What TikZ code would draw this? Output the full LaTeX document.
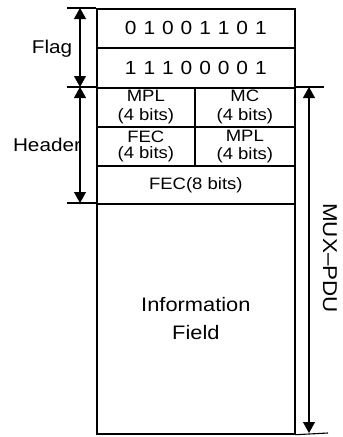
\documentclass[tikz,border=0pt]{standalone}
\usepackage{fontspec}
\setmainfont{Liberation Sans}[FakeStretch=1.12]
\newfontfamily\digitfont{Liberation Sans}[FakeStretch=1.1,WordSpace=1.2]
\usetikzlibrary{arrows.meta}
\begin{document}
\begin{tikzpicture}[x=1pt,y=-1pt,
  cell/.style={draw,line width=1.7pt,anchor=north west,inner sep=0pt,align=center,
    font=\fontsize{16.5}{19}\selectfont},
  lab/.style={inner sep=0pt,font=\fontsize{18.5}{20}\selectfont},
  dim/.style={line width=1.1pt},
  dimarrow/.style={line width=1.1pt,{Triangle[length=11pt,width=12pt]}-{Triangle[length=11pt,width=12pt]}}]
\useasboundingbox (0,0) rectangle (343,437);
% flag rows
\node[cell,minimum width=198pt,minimum height=39pt,font=\digitfont\fontsize{19}{20}\selectfont] (f1) at (96,8) {0 1 0 0 1 1 0 1};
\node[cell,minimum width=198pt,minimum height=40pt,font=\digitfont\fontsize{19}{20}\selectfont] (f2) at (96,47) {1 1 1 0 0 0 0 1};
% header rows
\node[cell,minimum width=98pt,minimum height=39pt] (h1) at (96,87) {MPL\\(4 bits)};
\node[cell,minimum width=100pt,minimum height=39pt] (h2) at (194,87) {MC\\(4 bits)};
\node[cell,minimum width=98pt,minimum height=39pt,font=\fontsize{16.5}{16.5}\selectfont] (h3) at (96,126) {FEC\\(4 bits)};
\node[cell,minimum width=100pt,minimum height=39pt,font=\fontsize{16.5}{18}\selectfont] (h4) at (194,126) {MPL\\(4 bits)};
\node[cell,minimum width=198pt,minimum height=38pt] (h5) at (96,165) {FEC(8 bits)};
% information field
\node[cell,minimum width=198pt,minimum height=230pt,font=\fontsize{19.5}{28}\selectfont] (inf) at (96,203) {Information\\Field};
% left dimension lines
\coordinate (ft) at (80,8);
\coordinate (fb) at (80,87);
\coordinate (hb) at (80,203);
\coordinate (t1) at (67,8);
\coordinate (t2) at (67,87);
\coordinate (t3) at (67,203);
\draw[dim] (t1) -- (f1.north west);
\draw[dim] (t2) -- (h1.north west);
\draw[dim] (t3) -- (inf.north west);
\draw[dimarrow] (ft) -- (fb);
\draw[dimarrow] (fb) -- (hb);
\node[lab] (flag) at (52,49) {Flag};
\node[lab] (header) at (47,145) {Header};
% right dimension line
\coordinate (rt) at (309,87);
\coordinate (rb) at (309,433);
\coordinate (r1) at (324,87);
\coordinate (r2) at (328,433);
\draw[dim] (h2.north east) -- (r1);
\draw[dim] (inf.south east) -- (r2);
\draw[dimarrow] (rt) -- (rb);
\node[lab,rotate=-90,font=\fontsize{20}{20}\selectfont] (mux) at (330,258) {MUX–PDU};
\end{tikzpicture}
\end{document}
